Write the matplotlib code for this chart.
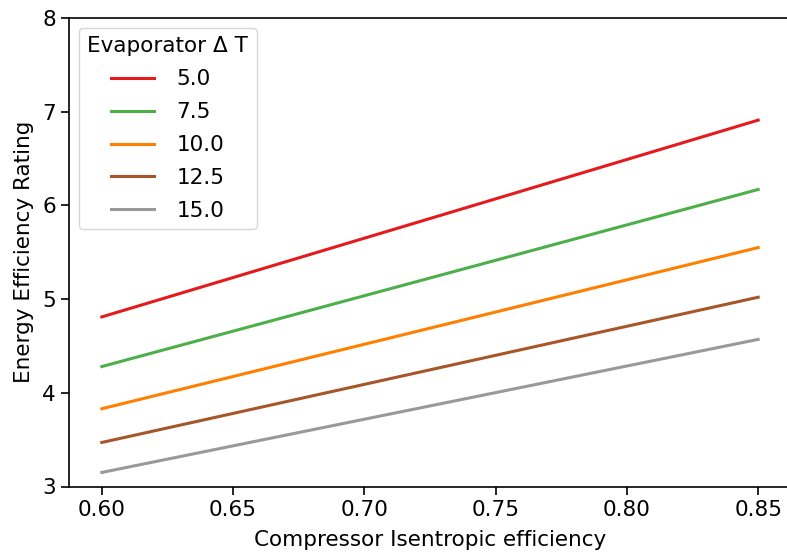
import matplotlib
matplotlib.use("Agg")
import matplotlib.pyplot as plt

# compressor isentropic efficiency (x) and EER read at both ends of each line
efficiency = [0.60, 0.85]
delta_t = ["5.0", "7.5", "10.0", "12.5", "15.0"]
eer_5_0 = [4.81, 6.91]
eer_7_5 = [4.28, 6.17]
eer_10_0 = [3.83, 5.55]
eer_12_5 = [3.47, 5.02]
eer_15_0 = [3.15, 4.57]
colors = ["#e41a1c", "#4daf4a", "#ff7f00", "#a65628", "#999999"]

plt.rcParams["font.size"] = 15.5

fig = plt.figure(figsize=(7.87, 5.55), dpi=100)
ax = fig.add_axes([69 / 787, 1 - 486.5 / 555, 722 / 787, (486.5 - 18) / 555])

series = [eer_5_0, eer_7_5, eer_10_0, eer_12_5, eer_15_0]
for label, vals, c in zip(delta_t, series, colors):
    ax.plot(efficiency, vals, color=c, lw=2.2, label=label)

ax.set_ylim(3, 8)
ax.set_xlim(0.5875, 0.8625)
ax.set_xticks([0.60, 0.65, 0.70, 0.75, 0.80, 0.85])
ax.set_xlabel("Compressor Isentropic efficiency", labelpad=7.5)
ax.set_ylabel("Energy Efficiency Rating", labelpad=6)
ax.tick_params(length=6, width=1.2)
for s in ax.spines.values():
    s.set_linewidth(1.2)
ax.legend(title="Evaporator Δ T", loc="upper left", title_fontsize=15.5,
          labelspacing=0.6, handletextpad=1.05, borderaxespad=0.45,
          bbox_to_anchor=(0.0, 1.0))

fig.savefig("out.png", dpi=100)
